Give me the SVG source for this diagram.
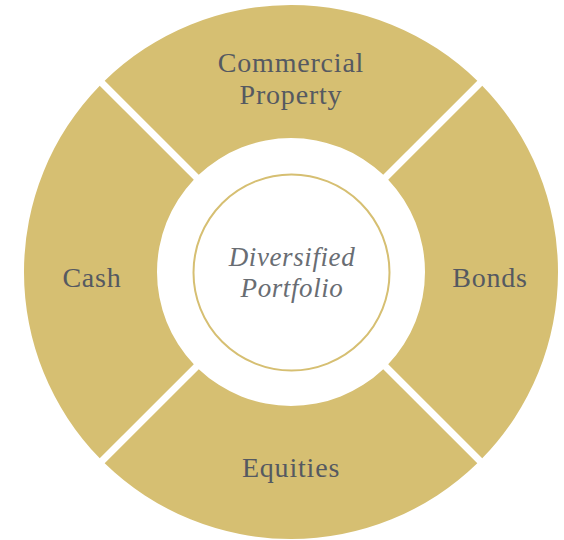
<svg xmlns="http://www.w3.org/2000/svg" width="564" height="540" viewBox="0 0 564 540">
<style>
.seg{fill:#D6BF72;}
.lbl{font-family:"Liberation Serif","Times New Roman",serif;font-size:28px;fill:#555961;text-anchor:middle;letter-spacing:0.8px;}
.ctr{font-family:"Liberation Serif","Times New Roman",serif;font-style:italic;font-size:27px;fill:#696D73;text-anchor:middle;letter-spacing:0.6px;}
</style>
<rect width="564" height="540" fill="#ffffff"/>
<g id="commercial-property">
<path class="seg" d="M104.69,80.74 A267,267 0 0 1 477.31,80.74 L383.24,174.80 A134,134 0 0 0 198.76,174.80 Z"/>
<text class="lbl" x="291" y="72">Commercial</text>
<text class="lbl" x="291" y="104">Property</text>
</g>
<g id="bonds">
<path class="seg" d="M482.26,85.69 A267,267 0 0 1 482.26,458.31 L388.20,364.24 A134,134 0 0 0 388.20,179.76 Z"/>
<text class="lbl" x="490" y="287">Bonds</text>
</g>
<g id="equities">
<path class="seg" d="M477.31,463.26 A267,267 0 0 1 104.69,463.26 L198.76,369.20 A134,134 0 0 0 383.24,369.20 Z"/>
<text class="lbl" x="291" y="477">Equities</text>
</g>
<g id="cash">
<path class="seg" d="M99.74,458.31 A267,267 0 0 1 99.74,85.69 L193.80,179.76 A134,134 0 0 0 193.80,364.24 Z"/>
<text class="lbl" x="92" y="287">Cash</text>
</g>
<g id="diversified-portfolio">
<circle cx="291.5" cy="272.5" r="98" fill="#ffffff" stroke="#D6BF72" stroke-width="2"/>
<text class="ctr" x="292" y="266">Diversified</text>
<text class="ctr" x="292" y="297">Portfolio</text>
</g>
<g id="connectors"></g>
</svg>
